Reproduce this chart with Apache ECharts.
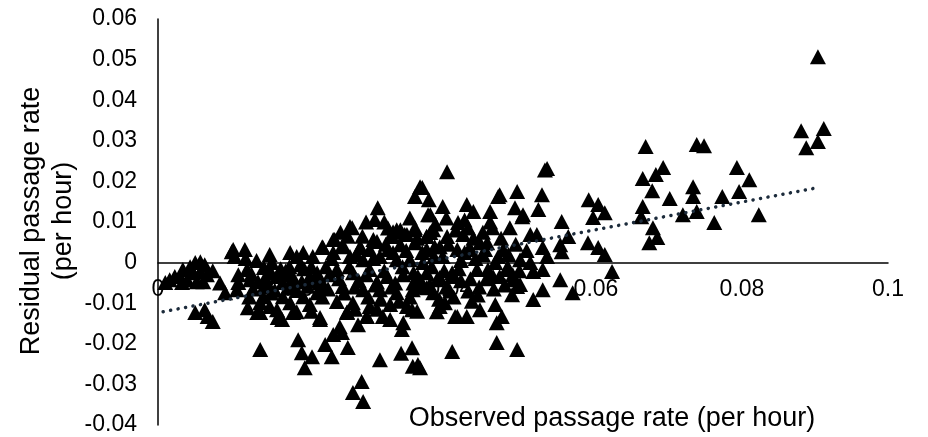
<!DOCTYPE html>
<html><head><meta charset="utf-8">
<script src="https://cdn.jsdelivr.net/npm/echarts@6/dist/echarts.min.js"></script>
<style>html,body{margin:0;padding:0;background:#fff}#c{width:928px;height:437px}</style>
</head><body><div id="c"></div>
<script>
// Axis settings / tick labels
const xMin = 0, xMax = 0.1, xStep = 0.02;
const yMin = -0.04, yMax = 0.06, yStep = 0.01;
const xTitle = 'Observed passage rate (per hour)';
const yTitle = 'Residual passage rate\n(per hour)';

// Scatter points [observed, residual]
const highPoints = [
  [0.0904,0.0507],[0.0881,0.0325],[0.0912,0.0330],[0.0904,0.0298],[0.0888,0.0283],
  [0.0738,0.0291],[0.0748,0.0288],[0.0793,0.0234],[0.0810,0.0204],[0.0796,0.0175],[0.0773,0.0163],
  [0.0823,0.0118],[0.0762,0.0099],[0.0733,0.0187],[0.0733,0.0163],[0.0738,0.0126],
  [0.0668,0.0286],[0.0692,0.0234],[0.0682,0.0217],[0.0664,0.0207],[0.0677,0.0177],[0.0701,0.0158],
  [0.0664,0.0138],[0.0662,0.0113],[0.0678,0.0086],[0.0684,0.0062],[0.0673,0.0049],[0.0719,0.0118]
];
const midRightPoints = [
  [0.0533,0.0232],[0.0530,0.0228],[0.0492,0.0175],[0.0526,0.0167],[0.0521,0.0131],[0.0489,0.0135],[0.0500,0.0118],
  [0.0590,0.0155],[0.0603,0.0143],[0.0612,0.0123],[0.0596,0.0111],[0.0553,0.0101],[0.0562,0.0064],
  [0.0551,0.0044],[0.0553,0.0027],[0.0519,0.0069],[0.0527,0.0037],[0.0533,0.0015],[0.0589,0.0049],
  [0.0603,0.0037],[0.0612,0.0020],[0.0622,-0.0022],[0.0496,0.0007],[0.0510,0.0000],[0.0514,-0.0022],
  [0.0527,-0.0017],[0.0551,-0.0042],[0.0486,-0.0042],[0.0527,-0.0067],[0.0496,-0.0054],[0.0568,-0.0074]
];
const middlePoints = [
  [0.0396,0.0224],[0.0362,0.0185],[0.0468,0.0167],[0.0371,0.0155],[0.0390,0.0138],[0.0423,0.0143],
  [0.0432,0.0126],[0.0455,0.0126],[0.0370,0.0118],[0.0411,0.0099],[0.0458,0.0086],[0.0482,0.0086],
  [0.0499,0.0113],[0.0396,0.0064],[0.0418,0.0069],[0.0368,0.0064],[0.0379,0.0039],[0.0427,0.0037],
  [0.0448,0.0032],[0.0441,0.0049],[0.0466,0.0015],[0.0510,0.0069],[0.0466,0.0163],
  [0.0437,-0.0017],[0.0452,-0.0017],[0.0462,0.0000],[0.0479,-0.0010],[0.0486,-0.0030],[0.0468,-0.0034],
  [0.0368,-0.0025],[0.0386,-0.0037],[0.0403,-0.0034],[0.0362,-0.0059],[0.0377,-0.0074],[0.0492,-0.0059],
  [0.0485,-0.0079],[0.0514,-0.0091],[0.0393,-0.0099],[0.0382,-0.0121],[0.0410,-0.0133],[0.0423,-0.0133],
  [0.0441,-0.0116],[0.0462,-0.0103],[0.0471,-0.0133],[0.0464,-0.0148],[0.0464,-0.0197],[0.0492,-0.0214],
  [0.0403,-0.0219],[0.0359,-0.0259],[0.0407,-0.0133],
  [0.0375,-0.0010],[0.0395,-0.0060],[0.0415,-0.0045],[0.0425,-0.0070],[0.0440,-0.0060],[0.0460,-0.0065],
  [0.0430,-0.0095],[0.0405,-0.0085],[0.0415,0.0005],[0.0390,0.0015],[0.0435,0.0010],[0.0445,0.0075],[0.0420,0.0105]
];
const centerPoints = [
  [0.0301,0.0135],[0.0297,0.0106],[0.0266,0.0086],[0.0327,0.0081],[0.0352,0.0086],[0.0373,0.0074],
  [0.0321,0.0064],[0.0338,0.0069],[0.0242,0.0057],[0.0253,0.0044],[0.0277,0.0037],[0.0300,0.0052],
  [0.0290,0.0032],[0.0315,0.0032],[0.0332,0.0044],[0.0352,0.0049],[0.0368,0.0032],[0.0386,0.0039],
  [0.0410,0.0032],[0.0427,0.0032],[0.0451,0.0049],[0.0473,0.0032],
  [0.0240,0.0025],[0.0263,0.0015],[0.0281,0.0007],[0.0304,0.0015],[0.0327,0.0007],[0.0345,0.0007],[0.0363,0.0000],
  [0.0245,-0.0017],[0.0267,-0.0025],[0.0290,-0.0017],[0.0314,-0.0034],[0.0336,-0.0030],[0.0356,-0.0034],
  [0.0382,-0.0042],[0.0403,-0.0025],[0.0459,-0.0034],[0.0478,-0.0017],
  [0.0253,-0.0059],[0.0281,-0.0067],[0.0304,-0.0067],[0.0327,-0.0074],[0.0349,-0.0067],[0.0368,-0.0062],
  [0.0245,-0.0096],[0.0267,-0.0099],[0.0290,-0.0108],[0.0318,-0.0103],[0.0341,-0.0108],[0.0386,-0.0108],
  [0.0259,-0.0123],[0.0286,-0.0133],[0.0308,-0.0133],[0.0336,-0.0148],[0.0249,-0.0158],[0.0274,-0.0153],
  [0.0263,0.0089],[0.0359,0.0187],[0.0352,0.0163],[0.0373,0.0118],[0.0225,0.0039],[0.0240,0.0057],
  [0.0253,0.0039],[0.0277,0.0039],[0.0295,0.0057],[0.0322,0.0076],[0.0332,0.0081],[0.0341,0.0069],
  [0.0352,0.0081],[0.0368,0.0064],[0.0377,0.0081],
  [0.0275,-0.0045],[0.0300,-0.0048],[0.0325,-0.0050],[0.0350,-0.0050],[0.0310,0.0100],[0.0280,0.0065],[0.0260,0.0065]
];
const denseCorePoints = [
  [0.0125,-0.0085],[0.0155,-0.0075],[0.0175,-0.0020],[0.0185,-0.0050],[0.0200,-0.0015],[0.0215,-0.0045],
  [0.0228,-0.0060],[0.0235,-0.0030],[0.0238,0.0010],[0.0248,-0.0040],[0.0255,-0.0075],[0.0262,-0.0010],
  [0.0270,-0.0060],[0.0272,0.0020],[0.0285,-0.0030],[0.0288,-0.0085],[0.0295,0.0010],[0.0298,-0.0055],
  [0.0305,-0.0090],[0.0310,-0.0020],[0.0312,0.0045],[0.0320,-0.0060],[0.0322,0.0025],[0.0330,-0.0095],
  [0.0335,-0.0010],[0.0340,0.0030],[0.0345,-0.0085],[0.0350,-0.0025],[0.0355,0.0060],[0.0360,-0.0045],
  [0.0362,0.0025],[0.0372,-0.0055],[0.0378,0.0015],[0.0380,0.0095],[0.0385,-0.0090],[0.0392,-0.0020],
  [0.0398,0.0045],[0.0400,-0.0070],[0.0408,0.0080],[0.0412,-0.0015],[0.0420,0.0025],[0.0428,-0.0040],
  [0.0432,0.0060],[0.0438,-0.0080],[0.0445,0.0020],[0.0450,-0.0040],[0.0455,0.0100],[0.0470,0.0060],
  [0.0475,-0.0055],[0.0480,0.0020],[0.0490,0.0045],[0.0495,-0.0020],[0.0505,0.0030],[0.0315,0.0085],
  [0.0285,0.0100],[0.0250,0.0075],[0.0345,0.0110],[0.0395,0.0110],[0.0425,0.0085],[0.0300,-0.0115],
  [0.0270,-0.0115],[0.0355,-0.0120],[0.0210,-0.0120],[0.0155,-0.0025],[0.0120,0.0010],[0.0085,-0.0050],
  [0.0075,-0.0020]
];
const lowPoints = [
  [0.0140,-0.0214],[0.0192,-0.0190],[0.0197,-0.0222],[0.0211,-0.0232],[0.0201,-0.0259],[0.0229,-0.0202],
  [0.0238,-0.0232],[0.0240,-0.0177],[0.0252,-0.0172],[0.0260,-0.0209],[0.0304,-0.0239],[0.0333,-0.0223],
  [0.0348,-0.0210],[0.0349,-0.0255],[0.0356,-0.0251],[0.0279,-0.0293],[0.0267,-0.0320],[0.0281,-0.0342],
  [0.0222,-0.0135],[0.0164,-0.0135],[0.0140,-0.0123],[0.0185,-0.0123],[0.0259,-0.0121],[0.0286,-0.0133],
  [0.0318,-0.0140],[0.0334,-0.0165],[0.0348,-0.0116]
];
const leftPoints = [
  [0.0010,-0.0049],[0.0016,-0.0042],[0.0030,-0.0034],[0.0034,-0.0017],[0.0044,-0.0010],[0.0051,0.0000],
  [0.0058,0.0002],[0.0064,-0.0005],[0.0067,-0.0030],[0.0040,-0.0042],[0.0053,-0.0047],[0.0062,-0.0047],
  [0.0033,-0.0049],[0.0048,-0.0025],[0.0058,-0.0022],[0.0023,-0.0034],
  [0.0101,0.0027],[0.0119,0.0032],[0.0105,0.0015],[0.0153,0.0020],[0.0156,0.0000],[0.0181,0.0025],
  [0.0190,0.0015],[0.0199,0.0025],[0.0212,0.0015],[0.0226,0.0037],[0.0103,0.0032],
  [0.0110,-0.0030],[0.0122,-0.0017],[0.0110,-0.0049],[0.0126,-0.0042],[0.0137,-0.0047],[0.0147,-0.0037],
  [0.0151,-0.0054],[0.0163,-0.0034],[0.0174,-0.0030],[0.0171,-0.0049],[0.0185,-0.0037],[0.0197,-0.0047],
  [0.0208,-0.0034],[0.0108,-0.0067],[0.0092,-0.0074],[0.0123,-0.0111],[0.0140,-0.0099],[0.0136,-0.0123],
  [0.0051,-0.0123],[0.0064,-0.0116],[0.0068,-0.0133],[0.0075,-0.0145],
  [0.0144,-0.0084],[0.0153,-0.0108],[0.0163,-0.0116],[0.0171,-0.0084],[0.0181,-0.0099],[0.0190,-0.0121],
  [0.0170,-0.0140],[0.0222,-0.0140],[0.0199,-0.0084],[0.0208,-0.0103],[0.0218,-0.0074],[0.0218,-0.0025],[0.0222,-0.0049],
  [0.0130,-0.0065],[0.0145,-0.0060],[0.0160,-0.0068],[0.0178,-0.0062],[0.0190,-0.0069],[0.0205,-0.0058],
  [0.0225,-0.0085],[0.0233,-0.0065],[0.0230,-0.0010],[0.0210,-0.0010],[0.0195,-0.0005],[0.0180,-0.0010],
  [0.0168,-0.0015],[0.0145,-0.0012],[0.0135,0.0005],[0.0128,-0.0028]
];

// Linear trend line endpoints
const trendX = [0.0007, 0.0905];
const trendY = [-0.0121, 0.0185];

const font = "'Liberation Sans', Arial, sans-serif";
const fmt = v => String(parseFloat(v.toFixed(4)));
const allPoints = [].concat(leftPoints, lowPoints, centerPoints, denseCorePoints, middlePoints, midRightPoints, highPoints);

// layout
const gridTop = 19, gridBottom = 12, chartH = 437;
const plotH = chartH - gridTop - gridBottom;
const zeroFromBottom = plotH * (0 - yMin) / (yMax - yMin);

const chart = echarts.init(document.getElementById('c'), null, {renderer: 'canvas'});
chart.setOption({
  animation: false,
  backgroundColor: '#fff',
  grid: {left: 158, right: 40, top: gridTop, bottom: gridBottom, containLabel: false, outerBoundsMode: 'none'},
  xAxis: {
    type: 'value', min: xMin, max: xMax, interval: xStep,
    position: 'bottom', offset: -zeroFromBottom,
    axisLine: {show: true, onZero: false, lineStyle: {color: '#000', width: 1.5}},
    axisTick: {show: false}, splitLine: {show: false},
    axisLabel: {color: '#000', fontSize: 23, fontFamily: font, margin: 16, formatter: fmt}
  },
  yAxis: {
    type: 'value', min: yMin, max: yMax, interval: yStep,
    axisLine: {show: true, onZero: false, lineStyle: {color: '#000', width: 1.5}},
    axisTick: {show: false}, splitLine: {show: false},
    axisLabel: {color: '#000', fontSize: 23, fontFamily: font, margin: 21, formatter: fmt}
  },
  series: [
    {type: 'scatter', data: allPoints, symbol: 'triangle', symbolSize: [16, 15],
     itemStyle: {color: '#000', opacity: 1}, z: 3},
    {type: 'line', data: trendX.map((x, i) => [x, trendY[i]]), symbol: 'none', z: 5,
     lineStyle: {color: '#1c2b3b', width: 3.5, type: [0.1, 7.5], cap: 'round'}}
  ],
  graphic: [
    {type: 'text', x: 612, y: 419, style: {text: xTitle, fill: '#000', font: "27px 'Liberation Sans', Arial, sans-serif", align: 'center', verticalAlign: 'middle'}},
    {type: 'text', x: 48, y: 221, rotation: Math.PI / 2, style: {text: yTitle, fill: '#000', font: "27px 'Liberation Sans', Arial, sans-serif", align: 'center', verticalAlign: 'middle', lineHeight: 32}}
  ]
});
</script></body></html>
